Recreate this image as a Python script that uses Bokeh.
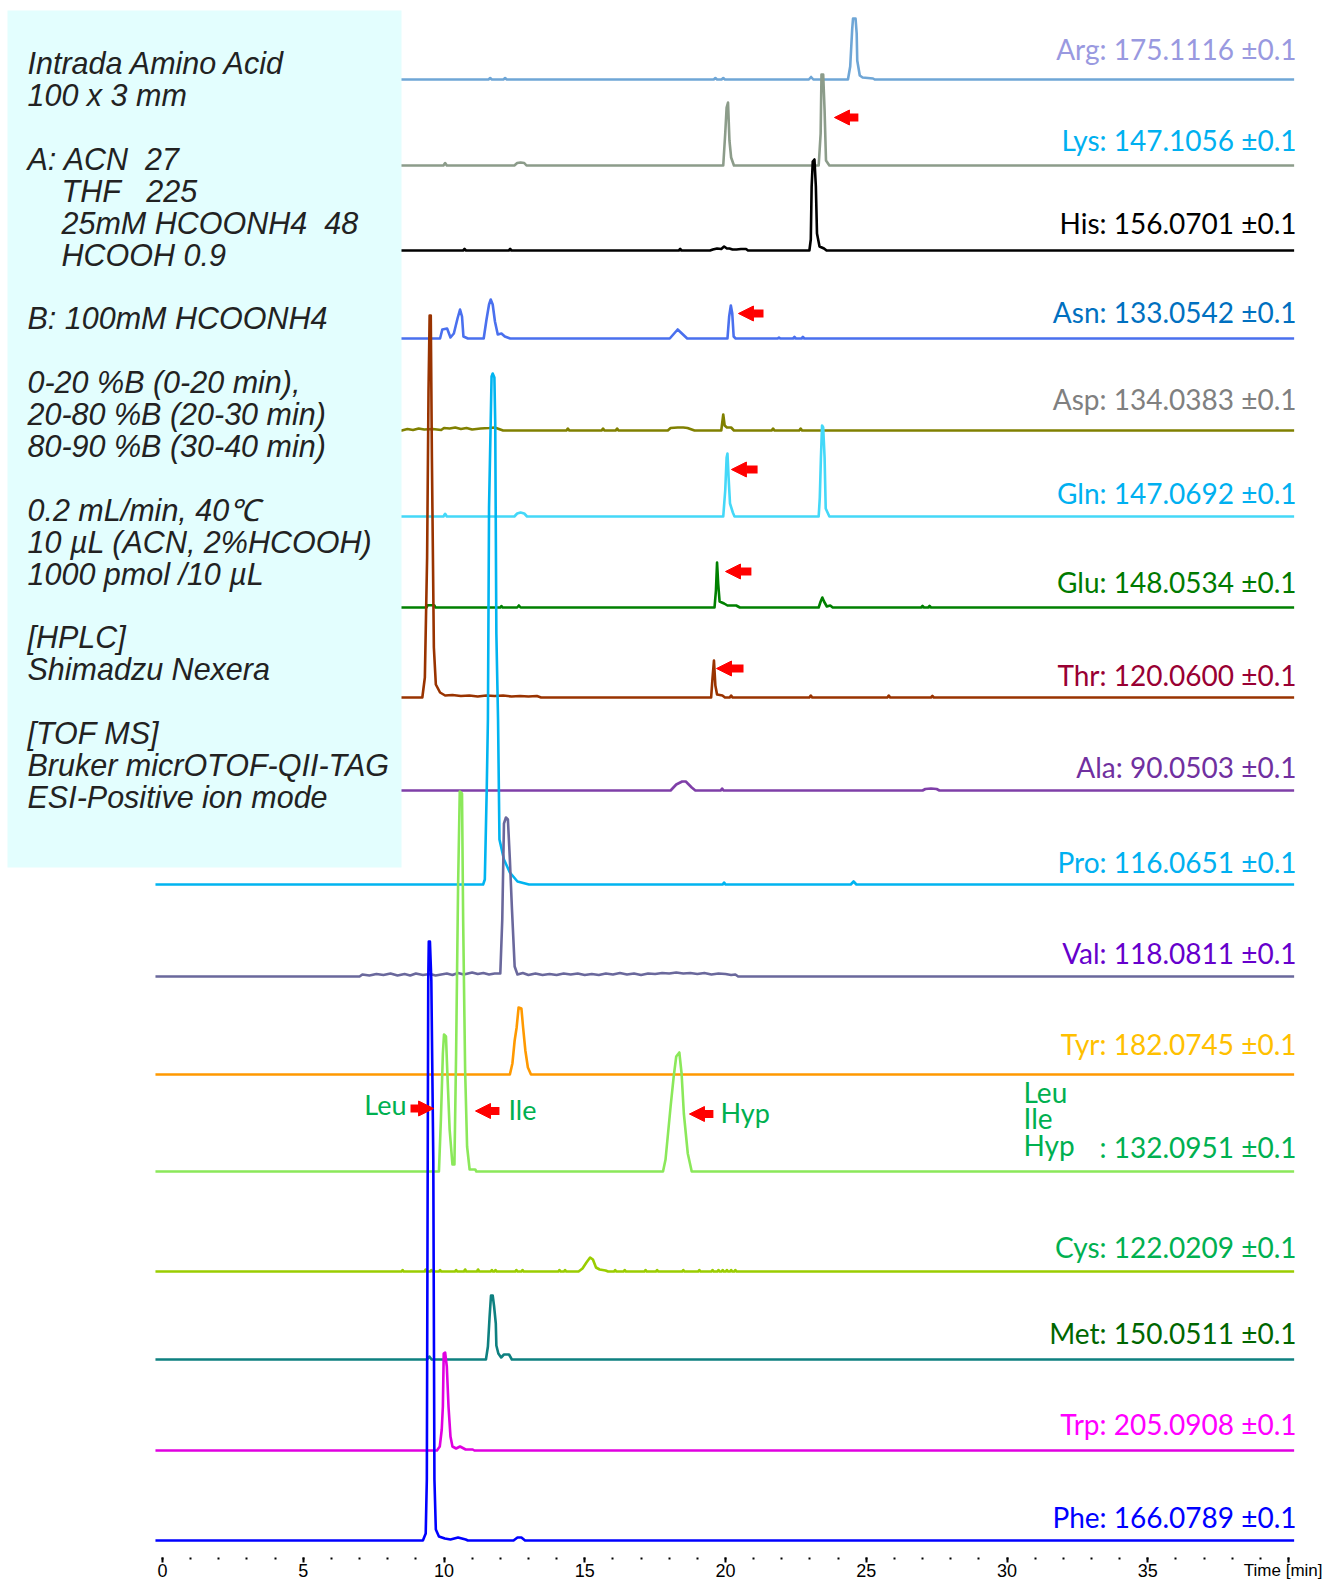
from bokeh.plotting import figure
from bokeh.models import (Range1d, BoxAnnotation, Label, Arrow, NormalHead,
                          FixedTicker, LinearAxis)
from bokeh.embed import file_html
from bokeh.resources import INLINE

# ---------------------------------------------------------------- data
TICKS = [0, 5, 10, 15, 20, 25, 30, 35, 40]
MINOR_TICKS = list(range(0, 41))
TIME_LABEL = "Time [min]"

NAMES = ["Arg", "Lys", "His", "Asn", "Asp", "Gln", "Glu", "Thr", "Ala",
         "Pro", "Val", "Tyr", "LeuIleHyp", "Cys", "Met", "Trp", "Phe"]
LABELS = ["Arg: 175.1116 \u00b10.1", "Lys: 147.1056 \u00b10.1",
          "His: 156.0701 \u00b10.1", "Asn: 133.0542 \u00b10.1",
          "Asp: 134.0383 \u00b10.1", "Gln: 147.0692 \u00b10.1",
          "Glu: 148.0534 \u00b10.1", "Thr: 120.0600 \u00b10.1",
          "Ala: 90.0503 \u00b10.1", "Pro: 116.0651 \u00b10.1",
          "Val: 118.0811 \u00b10.1", "Tyr: 182.0745 \u00b10.1",
          ": 132.0951 \u00b10.1", "Cys: 122.0209 \u00b10.1",
          "Met: 150.0511 \u00b10.1", "Trp: 205.0908 \u00b10.1",
          "Phe: 166.0789 \u00b10.1"]
STACK_NAMES = ["Leu", "Ile", "Hyp"]

INFO_LINES = ["Intrada Amino Acid", "100 x 3 mm", "",
              "A: ACN\u00a0\u00a027", "THF\u00a0\u00a0\u00a0225",
              "25mM HCOONH4\u00a0\u00a048", "HCOOH 0.9", "",
              "B: 100mM HCOONH4", "",
              "0-20 %B (0-20 min),", "20-80 %B (20-30 min)",
              "80-90 %B (30-40 min)", "",
              "0.2 mL/min, 40\u2103", "10 \u00b5L (ACN, 2%HCOOH)",
              "1000 pmol /10 \u00b5L", "",
              "[HPLC]", "Shimadzu Nexera", "",
              "[TOF MS]", "Bruker micrOTOF-QII-TAG", "ESI-Positive ion mode"]
INFO_INDENT = [0, 0, 0, 0, 1, 1, 1, 0, 0, 0, 0, 0, 0, 0, 0, 0, 0, 0, 0, 0, 0, 0, 0, 0]

# retention time [min] / signal (relative intensity) for each trace
ARG_T = [-0.25, 11.58, 11.64, 11.70, 12.11, 12.17, 12.23, 19.58, 19.64, 19.70,
         19.86, 19.92, 19.98, 22.96, 23.04, 23.12, 24.35, 24.43, 24.50, 24.53,
         24.62, 24.66, 24.68, 24.77, 24.87, 25.24, 25.30, 40.2]
ARG_I = [0, 0, 1.5, 0, 0, 1.5, 0, 0, 1.5, 0,
         0, 1.5, 0, 0, 2.5, 0, 0, 13, 50, 61,
         61, 46, 19, 4, 2, 1, 0, 0]

LYS_T = [-0.25, 9.98, 10.04, 10.10, 12.50, 12.60, 12.72, 12.85, 12.93, 19.92,
         19.99, 20.04, 20.09, 20.14, 20.20, 20.30, 23.31, 23.38, 23.41, 23.47,
         23.52, 23.57, 23.69, 40.2]
LYS_I = [0, 0, 2.5, 0, 0, 2.5, 3, 2.5, 0, 0,
         32, 58, 63, 25, 8, 0, 0, 32, 91, 91,
         55, 5, 0, 0]

HIS_T = [-0.25, 10.68, 10.73, 10.78, 12.30, 12.35, 12.40, 18.34, 18.39, 18.44,
         19.45, 19.55, 19.70, 19.85, 19.95, 20.05, 20.14, 20.25, 20.39, 20.55,
         20.73, 20.80, 22.98, 23.03, 23.06, 23.10, 23.16, 23.21, 23.25, 23.34,
         23.50, 23.59, 40.2]
HIS_I = [0, 0, 1.5, 0, 0, 1.5, 0, 0, 1.5, 0,
         0, 1, 2, 1.5, 4, 2, 2, 1, 1, 1.5,
         1.5, 0, 0, 11, 64, 89, 91, 64, 17, 4,
         2, 0, 0]

ASN_T = [-0.25, 9.86, 9.94, 10.11, 10.23, 10.35, 10.48, 10.57, 10.64, 10.69,
         10.85, 11.41, 11.51, 11.60, 11.66, 11.73, 11.81, 11.91, 12.04, 12.16,
         12.35, 18.02, 18.30, 18.64, 20.07, 20.13, 20.19, 20.24, 20.29, 20.36,
         21.85, 21.90, 21.95, 22.40, 22.45, 22.50, 22.70, 22.75, 22.80, 40.2]
ASN_I = [0, 0, 9, 10, 1, 5, 20, 29, 22, 2,
         0, 0, 19, 34, 39, 34, 17, 4, 5, 2,
         0, 0, 9, 0, 0, 22, 33, 25, 2, 0,
         0, 1, 0, 0, 1.5, 0, 0, 1.5, 0, 0]

ASP_T = [-0.25, 8.5, 8.7, 8.9, 9.1, 9.3, 9.6, 9.9, 10.0, 10.2,
         10.4, 10.6, 10.8, 11.0, 11.3, 11.6, 11.8, 12.0, 12.1, 14.35,
         14.40, 14.45, 15.60, 15.65, 15.70, 16.10, 16.15, 16.20, 17.95, 18.05,
         18.3, 18.5, 18.65, 18.8, 18.9, 19.85, 19.92, 19.97, 20.05, 20.20,
         20.30, 21.64, 21.69, 21.74, 22.62, 22.67, 22.72, 40.2]
ASP_I = [0, 0, 1.5, 0.5, 2, 1, 1.5, 0.5, 2.5, 2,
         3, 1.5, 2.5, 1, 2, 2.5, 3, 1, 0, 0,
         2, 0, 0, 2, 0, 0, 2, 0, 0, 2.5,
         3, 3, 2.5, 1, 0, 0, 16, 5, 3, 3,
         0, 0, 2, 0, 0, 2, 0, 0]

GLN_T = [-0.25, 9.98, 10.04, 10.10, 12.50, 12.60, 12.72, 12.85, 12.95, 19.92,
         19.99, 20.04, 20.07, 20.11, 20.16, 20.26, 20.32, 23.31, 23.35, 23.39,
         23.43, 23.47, 23.52, 23.56, 23.69, 40.2]
GLN_I = [0, 0, 2.7, 0, 0, 3, 4, 3, 0, 0,
         26, 59, 63, 39, 13, 4, 0, 0, 19, 59,
         91, 89, 59, 8, 0, 0]

GLU_T = [-0.25, 9.38, 9.42, 9.65, 9.70, 12.00, 12.04, 12.08, 12.60, 12.66,
         12.72, 19.61, 19.66, 19.70, 19.74, 19.79, 19.95, 20.07, 20.38, 20.51,
         23.31, 23.38, 23.44, 23.50, 23.60, 23.72, 23.81, 26.95, 27.00, 27.05,
         27.20, 27.25, 27.30, 40.2]
GLU_I = [0, 0, 2.3, 2.3, 0, 0, 1.5, 0, 0, 2,
         0, 0, 17, 45, 24, 6, 4, 2, 2, 0,
         0, 6, 10, 6, 1, 2, 0, 0, 1.5, 0,
         0, 1.5, 0, 0]

THR_T = [-0.25, 9.23, 9.32, 9.40, 9.45, 9.49, 9.53, 9.57, 9.64, 9.71,
         9.86, 10.04, 10.3, 10.6, 10.9, 11.2, 11.5, 11.8, 12.1, 12.4,
         12.7, 13.0, 13.3, 13.45, 19.49, 19.54, 19.59, 19.64, 19.70, 19.89,
         19.98, 20.15, 20.20, 20.25, 22.98, 23.03, 23.08, 25.75, 25.80, 25.85,
         27.30, 27.35, 27.40, 40.2]
THR_I = [0, 0, 20, 140, 307, 382, 382, 240, 50, 13,
         5, 2, 2.5, 1.5, 2, 1, 2, 1.5, 2, 1,
         1.5, 1, 1.5, 0, 0, 20, 37, 12, 3, 2,
         0, 0, 2, 0, 0, 2, 0, 0, 2, 0,
         0, 1.5, 0, 0]

ALA_T = [-0.25, 18.05, 18.25, 18.46, 18.59, 18.80, 18.93, 19.83, 19.88, 19.93,
         27.0, 27.1, 27.3, 27.5, 27.6, 40.2]
ALA_I = [0, 0, 6, 9, 9, 3, 0, 0, 2, 0,
         0, 1.5, 2, 1.5, 0, 0]

PRO_T = [-0.25, 11.39, 11.45, 11.52, 11.56, 11.60, 11.69, 11.73, 11.79, 11.82,
         11.86, 11.92, 11.97, 12.13, 12.34, 12.61, 13.02, 19.90, 19.95, 20.00,
         24.45, 24.55, 24.65, 40.2]
PRO_I = [0, 0, 5, 98, 165, 377, 508, 511, 507, 461,
         251, 165, 45, 25, 12, 3, 0, 0, 2, 0,
         0, 3, 0, 0]

VAL_T = [-0.25, 7.0, 7.1, 7.35, 7.6, 7.85, 8.1, 8.35, 8.6, 8.8,
         9.0, 9.25, 9.5, 9.7, 9.9, 10.1, 10.3, 10.5, 10.7, 11.0,
         11.2, 11.4, 11.6, 11.8, 12.00, 12.07, 12.13, 12.20, 12.27, 12.34,
         12.41, 12.51, 12.61, 12.8, 13.0, 13.25, 13.5, 13.75, 14.0, 14.25,
         14.5, 14.75, 15.0, 15.25, 15.5, 15.75, 16.0, 16.25, 16.5, 16.75,
         17.0, 17.25, 17.5, 17.75, 18.0, 18.25, 18.5, 18.75, 19.0, 19.25,
         19.5, 19.75, 20.0, 20.2, 20.35, 20.45, 40.2]
VAL_I = [0, 0, 2, 1, 2.5, 1.5, 3, 1, 2.5, 1,
         3, 1.5, 2.5, 1, 2, 3, 1.5, 3.5, 2, 4,
         2.5, 3.5, 2, 3, 3, 57, 153, 159, 157, 117,
         70, 10, 2, 3.5, 1.5, 3, 1.5, 2.5, 1.5, 3,
         2, 3, 1.5, 2.5, 1.5, 3, 2, 3.5, 2, 3,
         1.5, 3, 2.5, 3.5, 3, 4, 3, 3.5, 2.5, 3.5,
         2, 3, 2.5, 1.5, 2, 0, 0]

TYR_T = [-0.25, 12.34, 12.43, 12.51, 12.58, 12.65, 12.75, 12.81, 12.89, 12.98,
         13.09, 40.2]
TYR_I = [0, 0, 11, 34, 47, 67, 66, 47, 24, 7,
         0, 0]

LIH_T = [-0.25, 9.82, 9.89, 9.96, 10.00, 10.07, 10.12, 10.20, 10.30, 10.37,
         10.43, 10.50, 10.56, 10.64, 10.68, 10.75, 10.82, 10.91, 11.11, 11.15,
         17.78, 17.87, 18.05, 18.16, 18.25, 18.36, 18.44, 18.52, 18.66, 18.80, 40.2]
LIH_I = [0, 0, 52, 118, 137, 135, 98, 42, 7, 7,
         118, 285, 380, 378, 252, 102, 25, 2, 2, 0,
         0, 12, 65, 95, 115, 119, 98, 58, 18, 0, 0]

CYS_T = [-0.25, 8.49, 8.53, 8.57, 9.31, 9.35, 9.39, 9.51, 9.55, 9.59,
         9.82, 9.86, 9.90, 10.39, 10.43, 10.47, 10.71, 10.75, 10.79, 11.17,
         11.21, 11.25, 11.66, 11.70, 11.74, 11.79, 11.83, 11.87, 12.53, 12.57,
         12.61, 12.75, 12.79, 12.83, 14.06, 14.10, 14.14, 14.26, 14.30, 14.34,
         14.78, 14.92, 15.06, 15.19, 15.29, 15.40, 15.53, 15.74, 15.83, 16.04,
         16.08, 16.12, 16.38, 16.42, 16.46, 17.12, 17.16, 17.20, 17.53, 17.57,
         17.61, 18.46, 18.50, 18.54, 19.03, 19.07, 19.11, 19.50, 19.54, 19.58,
         19.71, 19.75, 19.79, 19.86, 19.90, 19.94, 20.01, 20.05, 20.09, 20.16,
         20.20, 20.24, 20.31, 20.35, 20.39, 40.2]
CYS_I = [0, 0, 1.5, 0, 0, 2, 0, 0, 1.5, 0,
         0, 1.5, 0, 0, 1.5, 0, 0, 2, 0, 0,
         2, 0, 0, 1.5, 0, 0, 1.5, 0, 0, 1.5,
         0, 0, 1.5, 0, 0, 1.5, 0, 0, 1.5, 0,
         0, 3, 9, 14, 12, 4, 2, 1, 0, 0,
         1.5, 0, 0, 1.5, 0, 0, 1.5, 0, 0, 1.5,
         0, 0, 1.5, 0, 0, 1.5, 0, 0, 1.5, 0,
         0, 1.5, 0, 0, 1.5, 0, 0, 1.5, 0, 0,
         1.5, 0, 0, 1.5, 0, 0]

MET_T = [-0.25, 9.40, 9.48, 9.56, 11.49, 11.56, 11.62, 11.67, 11.73, 11.78,
         11.84, 11.86, 11.93, 12.03, 12.13, 12.31, 12.41, 40.2]
MET_I = [0, 0, 3, 0, 0, 13, 43, 64, 64, 53,
         36, 14, 6, 2, 5, 5, 0, 0]

TRP_T = [-0.25, 9.75, 9.85, 9.92, 9.96, 9.99, 10.04, 10.10, 10.16, 10.23,
         10.30, 10.43, 10.57, 10.77, 11.02, 11.08, 40.2]
TRP_I = [0, 0, 4, 21, 44, 97, 98, 84, 44, 14,
         4, 2, 4, 1, 1, 0, 0]

PHE_T = [-0.25, 9.25, 9.35, 9.39, 9.44, 9.46, 9.50, 9.55, 9.62, 9.66,
         9.71, 9.82, 10.03, 10.23, 10.50, 10.77, 10.85, 12.47, 12.61, 12.75,
         12.88, 40.2]
PHE_I = [0, 0, 7, 61, 560, 599, 599, 560, 380, 61,
         11, 4, 2, 1, 3, 1, 0, 0, 3, 3,
         0, 0]

SERIES = [(ARG_T, ARG_I), (LYS_T, LYS_I), (HIS_T, HIS_I), (ASN_T, ASN_I),
          (ASP_T, ASP_I), (GLN_T, GLN_I), (GLU_T, GLU_I), (THR_T, THR_I),
          (ALA_T, ALA_I), (PRO_T, PRO_I), (VAL_T, VAL_I), (TYR_T, TYR_I),
          (LIH_T, LIH_I), (CYS_T, CYS_I), (MET_T, MET_I), (TRP_T, TRP_I),
          (PHE_T, PHE_I)]

# arrows: (trace index, head time, tail time, height above baseline)
ARROWS = [(1, 23.87, 24.72, 48), (3, 20.46, 21.35, 25), (5, 20.21, 21.14, 47),
          (6, 20.00, 20.92, 36), (7, 19.68, 20.64, 29), (12, 9.63, 8.81, 63),
          (12, 11.12, 11.97, 60.5), (12, 18.72, 19.57, 57.5)]

# ---------------------------------------------------------------- style / layout
LINE_COLORS = ["#6FA6D6", "#8C9C8A", "#000000", "#4A70EE", "#808000",
               "#44D8F8", "#008000", "#993300", "#7F3FA8", "#00B4F0",
               "#6A689C", "#FF9900", "#8BE85A", "#9ACD00", "#0E8080",
               "#E000E0", "#0000FF"]
LABEL_COLORS = ["#9999E0", "#00B0F0", "#000000", "#0070C0", "#808080",
                "#00B0F0", "#007A00", "#990033", "#7030A0", "#00B0F0",
                "#6600CC", "#FFC000", "#00B050", "#00B050", "#006600",
                "#FF00FF", "#0000FF"]
BASELINE_PAGE = [79, 165, 250, 338, 430, 516, 607, 697, 790, 884, 976,
                 1074, 1171, 1271, 1359, 1450, 1540]
LABEL_BASE_PAGE = [59, 149.5, 233, 322, 409, 502.5, 592, 685, 777, 872,
                   962.5, 1053.5, 1157, 1257, 1343, 1434, 1527]

W, H = 1324, 1580
PX_PER_MIN = 28.15
T0_PAGE = 162.0
TEXT_SHIFT = 0.37   # rendered alphabetic baseline sits this many em lower


def tx(page_x):
    return (page_x - T0_PAGE) / PX_PER_MIN


def Y(page_y):
    return H - page_y


def tbase(page_y, size):
    return Y(page_y - TEXT_SHIFT * size)


p = figure(width=W, height=H, output_backend="svg", toolbar_location=None,
           x_range=Range1d(tx(0), tx(W)), y_range=Range1d(Y(H), Y(0)),
           x_axis_location=None, y_axis_location=None,
           min_border=0, min_border_left=0, min_border_right=0,
           min_border_top=0, min_border_bottom=0)
p.xgrid.visible = False
p.ygrid.visible = False
p.outline_line_color = None
p.background_fill_color = "white"
p.border_fill_color = "white"

# traces
for k, (ts, vals) in enumerate(SERIES):
    base = Y(BASELINE_PAGE[k])
    p.line(ts, [base + v for v in vals], line_color=LINE_COLORS[k],
           line_width=2.6, line_join="round")

# axis
NARROW = "Liberation Sans Narrow, Liberation Sans, sans-serif"
xaxis = LinearAxis(ticker=FixedTicker(ticks=TICKS, minor_ticks=MINOR_TICKS),
                   fixed_location=Y(1557))
xaxis.axis_line_color = None
xaxis.major_tick_line_width = 2
xaxis.major_tick_in = 0
xaxis.major_tick_out = 5
xaxis.minor_tick_line_width = 2
xaxis.minor_tick_in = 0
xaxis.minor_tick_out = 2
xaxis.major_label_standoff = 1
xaxis.major_label_overrides = {40: ""}
xaxis.major_label_text_font = NARROW
xaxis.major_label_text_font_size = "18px"
xaxis.major_label_text_color = "black"
p.add_layout(xaxis, "below")

p.add_layout(Label(x=tx(1322), y=tbase(1576, 17), text=TIME_LABEL,
                   text_align="right", text_baseline="alphabetic",
                   text_font=NARROW, text_font_size="17px", text_color="black"))

# info box
p.add_layout(BoxAnnotation(left=tx(7), right=tx(401), top=Y(10), bottom=Y(867),
                           fill_color="#E3FEFE", fill_alpha=1.0, line_color=None))
for i, line in enumerate(INFO_LINES):
    if not line:
        continue
    xpage = 61 if INFO_INDENT[i] else 27
    p.add_layout(Label(x=tx(xpage), y=tbase(74 + 31.9 * i, 30.5), text=line,
                       text_baseline="alphabetic", text_font="Liberation Sans",
                       text_font_style="italic", text_font_size="30.5px",
                       text_color="#222222"))

# right labels
for k, lab in enumerate(LABELS):
    p.add_layout(Label(x=tx(1296), y=tbase(LABEL_BASE_PAGE[k], 28), text=lab,
                       text_align="right", text_baseline="alphabetic",
                       text_font="Lato", text_font_size="28px",
                       text_color=LABEL_COLORS[k]))
for j, nm in enumerate(STACK_NAMES):
    p.add_layout(Label(x=tx(1023), y=tbase(1101.5 + 26.5 * j, 28), text=nm,
                       text_align="left", text_baseline="alphabetic",
                       text_font="Lato", text_font_size="28px",
                       text_color="#00B050"))

# peak labels
p.add_layout(Label(x=tx(406), y=tbase(1114, 27), text=STACK_NAMES[0], text_align="right",
                   text_baseline="alphabetic", text_font="Lato",
                   text_font_size="27px", text_color="#00B050"))
p.add_layout(Label(x=tx(508), y=tbase(1119, 27), text=STACK_NAMES[1], text_align="left",
                   text_baseline="alphabetic", text_font="Lato",
                   text_font_size="27px", text_color="#00B050"))
p.add_layout(Label(x=tx(720), y=tbase(1122, 27), text=STACK_NAMES[2], text_align="left",
                   text_baseline="alphabetic", text_font="Lato",
                   text_font_size="27px", text_color="#00B050"))

# arrows
for (k, t_head, t_tail, h) in ARROWS:
    yy = Y(BASELINE_PAGE[k]) + h
    p.add_layout(Arrow(end=NormalHead(size=15, fill_color="#FF0000",
                                      line_color="#FF0000", line_width=1),
                       x_start=t_tail, y_start=yy, x_end=t_head, y_end=yy,
                       line_color="#FF0000", line_width=8))

open("out.html", "w").write(file_html(p, INLINE))
